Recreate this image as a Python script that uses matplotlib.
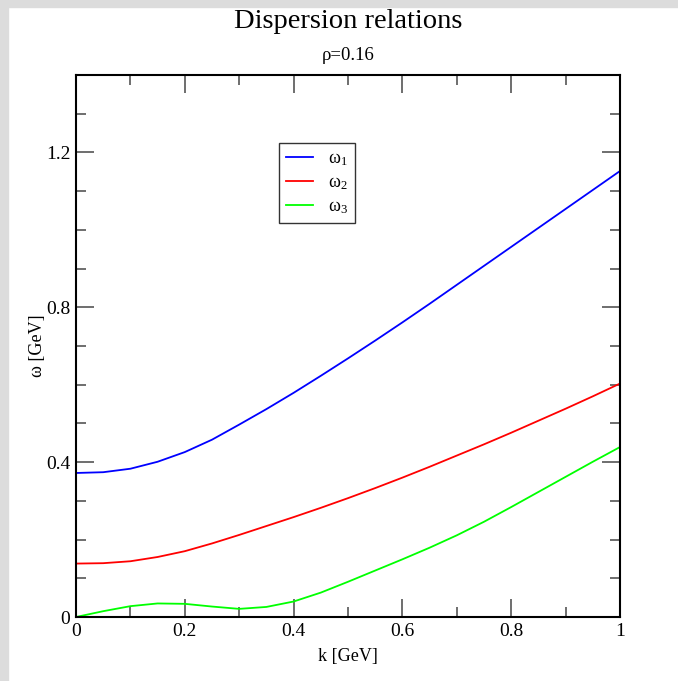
import matplotlib
matplotlib.use("Agg")
import matplotlib.pyplot as plt
from matplotlib.patches import Rectangle
from matplotlib.ticker import MultipleLocator, FuncFormatter

plt.rcParams['font.family'] = ['Liberation Serif', 'DejaVu Serif']
plt.rcParams['mathtext.default'] = 'regular'

# momentum grid and the three branches (GeV)
k = [0.0, 0.05, 0.1, 0.15, 0.2, 0.25, 0.3, 0.35, 0.4, 0.45, 0.5,
     0.55, 0.6, 0.65, 0.7, 0.75, 0.8, 0.85, 0.9, 0.95, 1.0]
omega1 = [0.372, 0.374, 0.383, 0.401, 0.426, 0.458, 0.497, 0.537, 0.579, 0.623, 0.668,
          0.714, 0.761, 0.809, 0.858, 0.907, 0.956, 1.005, 1.054, 1.103, 1.152]
omega2 = [0.138, 0.139, 0.144, 0.155, 0.170, 0.190, 0.212, 0.235, 0.258, 0.282, 0.307,
          0.333, 0.360, 0.388, 0.417, 0.446, 0.476, 0.507, 0.538, 0.570, 0.603]
omega3 = [0.0, 0.015, 0.028, 0.035, 0.034, 0.027, 0.021, 0.026, 0.040, 0.063, 0.091,
          0.120, 0.149, 0.179, 0.211, 0.246, 0.284, 0.323, 0.362, 0.401, 0.439]
labels = [r'$\omega_1$', r'$\omega_2$', r'$\omega_3$']
colors = ['#0000ff', '#ff0000', '#00ff00']

fig = plt.figure(figsize=(6.78, 6.81), dpi=100)
# grey frame strips along the top and left edge
fig.patches.append(Rectangle((0, 1 - 7 / 681), 1, 7 / 681, transform=fig.transFigure,
                             color='#dcdcdc', zorder=0))
fig.patches.append(Rectangle((0, 0), 8 / 678, 1, transform=fig.transFigure,
                             color='#dcdcdc', zorder=0))

ax = fig.add_axes([76 / 678, 64 / 681, 544 / 678, 542 / 681])
for y, lab, c in zip([omega1, omega2, omega3], labels, colors):
    ax.plot(k, y, color=c, lw=1.3, label=lab)

ax.set_xlim(0, 1)
ax.set_ylim(0, 1.4)
ax.xaxis.set_major_locator(MultipleLocator(0.2))
ax.xaxis.set_minor_locator(MultipleLocator(0.1))
ax.yaxis.set_major_locator(MultipleLocator(0.4))
ax.yaxis.set_minor_locator(MultipleLocator(0.1))
fmt = FuncFormatter(lambda v, p: '%g' % round(v, 2))
ax.xaxis.set_major_formatter(fmt)
ax.yaxis.set_major_formatter(fmt)
ax.tick_params(which='both', direction='in', top=True, right=True, labelsize=14,
               color='#555555', pad=4)
ax.tick_params(which='major', length=13, width=1.2)
ax.tick_params(which='minor', length=7, width=1.2)
for s in ax.spines.values():
    s.set_linewidth(1.5)

ax.set_xlabel('k [GeV]', fontsize=13, labelpad=6)
ax.set_ylabel('ω [GeV]', fontsize=13, labelpad=0)

fig.text(348 / 678, 1 - 22 / 681, 'Dispersion relations', ha='center', va='center',
         fontsize=20.5)
fig.text(348 / 678, 1 - 55 / 681, 'ρ=0.16', ha='center', va='center', fontsize=13.5)

leg = ax.legend(loc='upper left', bbox_to_anchor=((279 - 76) / 544, (617 - 143) / 542),
                borderaxespad=0, fancybox=False, frameon=True, fontsize=13,
                handlelength=1.5, labelspacing=0.35, borderpad=0.4, handletextpad=0.8)
leg.get_frame().set_edgecolor('black')
leg.get_frame().set_linewidth(1.0)

fig.savefig('out.png', dpi=100)
